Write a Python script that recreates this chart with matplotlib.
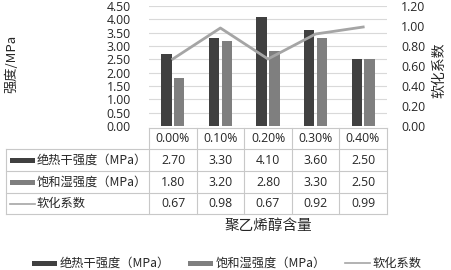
import numpy as np
import matplotlib
matplotlib.use('Agg')
import matplotlib.pyplot as plt
from matplotlib.patches import Rectangle

plt.rcParams['font.family'] = ['Noto Sans CJK SC', 'DejaVu Sans']

categories = ['0.00%', '0.10%', '0.20%', '0.30%', '0.40%']
dry_strength = [2.70, 3.30, 4.10, 3.60, 2.50]
wet_strength = [1.80, 3.20, 2.80, 3.30, 2.50]
softening = [0.67, 0.98, 0.67, 0.92, 0.99]
series_names = ['绝热干强度（MPa）', '饱和湿强度（MPa）', '软化系数']
left_ticks = [0.0, 0.5, 1.0, 1.5, 2.0, 2.5, 3.0, 3.5, 4.0, 4.5]
right_ticks = [0.0, 0.2, 0.4, 0.6, 0.8, 1.0, 1.2]
xlabel = '聚乙烯醇含量'
ylabel_left = '强度/MPa'
ylabel_right = '软化系数'

C_DRY = '#404040'
C_WET = '#7f7f7f'
C_LINE = '#a5a5a5'
C_GRID = '#d9d9d9'
C_TXT = '#262626'
NUMFONT = 'Open Sans'
NUMSIZE = 8.8
CJKSIZE = 8.8

W, H = 451, 270
fig = plt.figure(figsize=(W / 100, H / 100), dpi=100)


def px(x0, y0, x1, y1):
    return [x0 / W, 1 - y1 / H, (x1 - x0) / W, (y1 - y0) / H]


ax = fig.add_axes(px(149, 6, 387, 126))
x = np.arange(len(categories))
ax.bar(x - 0.135, dry_strength, 0.22, color=C_DRY, zorder=2)
ax.bar(x + 0.135, wet_strength, 0.22, color=C_WET, zorder=2)
ax.set_xlim(-0.5, len(categories) - 0.5)
ax.set_ylim(0, 4.5)
ax.set_yticks(left_ticks)
ax.set_yticklabels([f'{v:.2f}' for v in left_ticks], fontfamily=NUMFONT,
                   fontsize=NUMSIZE, color=C_TXT)
ax.set_xticks([])
ax.grid(axis='y', color=C_GRID, lw=0.8)
ax.set_axisbelow(True)
for s in ax.spines.values():
    s.set_visible(False)
ax.tick_params(axis='y', length=0, pad=13)

ax2 = ax.twinx()
ax2.plot(x, softening, color=C_LINE, lw=2, zorder=3)
ax2.set_ylim(0, 1.2)
ax2.set_yticks(right_ticks)
ax2.set_yticklabels([f'{v:.2f}' for v in right_ticks], fontfamily=NUMFONT,
                    fontsize=NUMSIZE, color=C_TXT)
ax2.tick_params(axis='y', length=0, pad=10)
for s in ax2.spines.values():
    s.set_visible(False)

# table / annotation overlay in pixel coordinates
tax = fig.add_axes([0, 0, 1, 1])
tax.set_xlim(0, W)
tax.set_ylim(H, 0)
tax.axis('off')
tax.patch.set_alpha(0)

col_edges = [149, 197, 244, 292, 339, 387]
row_edges = [128, 149, 171, 193, 214]
bc = '#c8c8c8'
tax.plot([149, 387], [row_edges[0]] * 2, color=bc, lw=0.8)
for ye in row_edges[1:]:
    tax.plot([6, 387], [ye, ye], color=bc, lw=0.8)
for xe in col_edges:
    tax.plot([xe, xe], [row_edges[0], row_edges[-1]], color=bc, lw=0.8)
tax.plot([6, 6], [row_edges[1], row_edges[-1]], color=bc, lw=0.8)

centers = [(col_edges[i] + col_edges[i + 1]) / 2 for i in range(len(categories))]
rows = [dry_strength, wet_strength, softening]
for i, c in enumerate(categories):
    tax.text(centers[i], (row_edges[0] + row_edges[1]) / 2, c, ha='center',
             va='center', fontsize=NUMSIZE, fontfamily=NUMFONT, color=C_TXT)
for r, vals in enumerate(rows):
    yc = (row_edges[r + 1] + row_edges[r + 2]) / 2
    for i, v in enumerate(vals):
        tax.text(centers[i], yc, f'{v:.2f}', ha='center', va='center',
                 fontsize=NUMSIZE, fontfamily=NUMFONT, color=C_TXT)


def legend_key(xs, yc, kind):
    if kind == 0:
        tax.add_patch(Rectangle((xs, yc - 2.5), 25, 5, color=C_DRY, lw=0))
    elif kind == 1:
        tax.add_patch(Rectangle((xs, yc - 2.5), 25, 5, color=C_WET, lw=0))
    else:
        tax.plot([xs, xs + 25], [yc, yc], color=C_LINE, lw=1.2)


for r in range(3):
    yc = (row_edges[r + 1] + row_edges[r + 2]) / 2
    legend_key(10, yc, r)
    tax.text(37, yc, series_names[r], ha='left', va='center', fontsize=CJKSIZE,
             color=C_TXT)

tax.text(268, 226, xlabel, ha='center', va='center', fontsize=10.5, color=C_TXT)
tax.text(12, 64, ylabel_left, ha='center', va='center', rotation=90,
         fontsize=9.5, color=C_TXT)
tax.text(439, 70, ylabel_right, ha='center', va='center', rotation=90,
         fontsize=10, color=C_TXT)

leg_x = [32, 188, 345]
for k in range(3):
    legend_key(leg_x[k], 263, k)
    tax.text(leg_x[k] + 28, 263, series_names[k], ha='left', va='center',
             fontsize=CJKSIZE, color=C_TXT)

fig.savefig('out.png', dpi=100)
